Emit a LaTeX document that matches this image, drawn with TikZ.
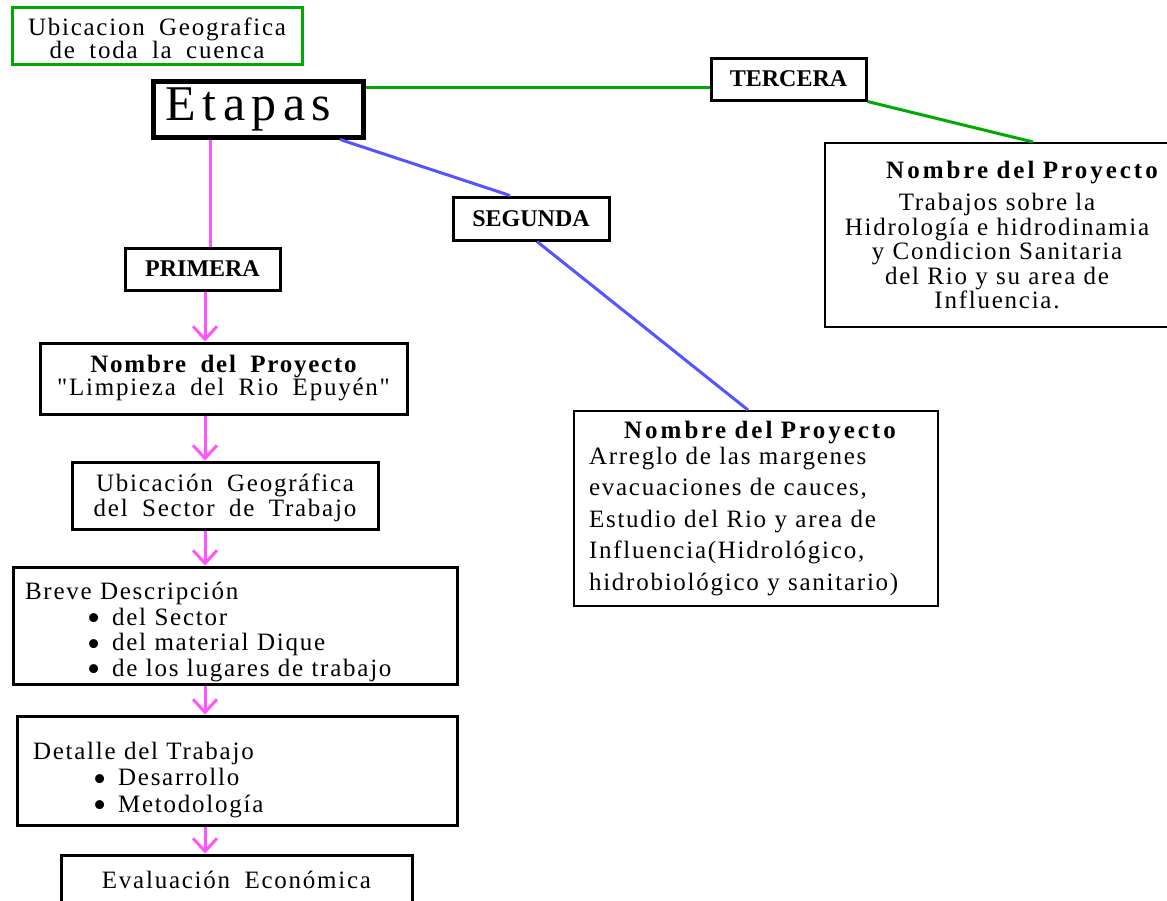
\documentclass[tikz,border=0pt]{standalone}
\usepackage{fontspec}
\usepackage{graphicx}
\setmainfont{Liberation Serif}
\newfontfamily\bodyf[LetterSpace=7,WordSpace=1.8]{Liberation Serif}
\newfontfamily\etapf[LetterSpace=13]{Liberation Serif}
\usetikzlibrary{arrows.meta}
\definecolor{cgreen}{RGB}{0,170,0}
\definecolor{cpink}{RGB}{255,85,255}
\definecolor{cblue}{RGB}{85,85,255}
\newcommand{\bul}{\raisebox{-5.5pt}{\scalebox{1.5}{\textbullet}}}
\begin{document}
\begin{tikzpicture}[x=1pt,y=-1pt,
  box/.style={draw=black, line width=3pt, inner sep=0pt, fill=white, font=\bodyf\fontsize{25}{25}\selectfont},
  thinbox/.style={box, line width=2pt},
  labelbox/.style={box, font=\bfseries\fontsize{24}{26}\selectfont},
  pinkline/.style={cpink, line width=3pt},
  pinkarrow/.style={pinkline, -{Straight Barb[length=13pt,width=24pt]}},
  blueline/.style={cblue, line width=3pt},
  greenline/.style={cgreen, line width=3pt}]
\useasboundingbox (0,0) rectangle (1167,900);
\clip (0,0) rectangle (1167,900);
\fill[white] (0,0) rectangle (1167,900);

\node[box, draw=cgreen, minimum width=290pt, minimum height=57pt, align=center, font=\bodyf\fontsize{25}{23}\selectfont] (cuenca) at (157,35.5) {\rule{0pt}{23pt}Ubicacion Geografica\\ de toda la cuenca};

\node[box, line width=5pt, minimum width=210pt, minimum height=56pt, font=\etapf\fontsize{50}{52}\selectfont] (etapas) at (258,109) {Etapas\hspace*{19pt}};

\node[labelbox, minimum width=155pt, minimum height=42pt] (tercera) at (788.5,79) {TERCERA};
\node[labelbox, minimum width=156pt, minimum height=43pt] (segunda) at (531,218.5) {SEGUNDA};
\node[labelbox, minimum width=155pt, minimum height=42pt] (primera) at (202.5,269) {PRIMERA};

\node[thinbox, minimum width=344pt, minimum height=184pt, text width=340pt, align=center, font=\bodyf\fontsize{25}{24.5}\selectfont] (tercp) at (997,235) {\hspace*{50pt}{\bfseries\addfontfeature{LetterSpace=12} Nombre del Proyecto}\\[8pt] Trabajos sobre la\\ Hidrología e hidrodinamia\\ y Condicion Sanitaria\\ del Rio y su area de\\ Influencia.};

\node[thinbox, minimum width=364pt, minimum height=195pt, text width=334pt, align=left, font=\bodyf\fontsize{25}{31.5}\selectfont] (segp) at (756,508.5) {\makebox[334pt]{\hspace*{8pt}\bfseries\addfontfeature{LetterSpace=12}Nombre del Proyecto}\\[-6pt] Arreglo de las margenes\\ evacuaciones de cauces,\\ Estudio del Rio y area de\\ Influencia(Hidrológico,\\ hidrobiológico y sanitario)};

\node[box, minimum width=367pt, minimum height=71pt, align=center, font=\bodyf\fontsize{25}{23}\selectfont] (n1) at (223.5,378.5) {{\bfseries Nombre del Proyecto}\\ "Limpieza del Rio Epuyén"};

\node[box, minimum width=306pt, minimum height=67pt, align=center] (ubic) at (225,495.5) {\rule{0pt}{22pt}Ubicación Geográfica\\ del Sector de Trabajo};

\node[box, minimum width=444pt, minimum height=117pt, text width=420pt, align=left, font=\bodyf\fontsize{25}{25.5}\selectfont] (breve) at (235,625.5) {\rule{0pt}{30pt}Breve Descripción\\ \hspace*{62pt}\bul\hspace{12pt}del Sector\\ \hspace*{62pt}\bul\hspace{12pt}del material Dique\\ \hspace*{62pt}\bul\hspace{12pt}de los lugares de trabajo};

\node[box, minimum width=440pt, minimum height=109pt, text width=408pt, align=left, font=\bodyf\fontsize{25}{26.5}\selectfont] (detalle) at (237,770.5) {\rule{0pt}{36pt}Detalle del Trabajo\\ \hspace*{60pt}\bul\hspace{12pt}Desarrollo\\ \hspace*{60pt}\bul\hspace{12pt}Metodología};

\node[box, minimum width=351pt, minimum height=50pt] (eval) at (236.5,880) {Evaluación Económica};

% connectors
\coordinate (gy) at (0,87);
\coordinate (gx) at (1033,0);
\draw[greenline] (etapas.east |- gy) -- (tercera.west |- gy);
\draw[greenline] (tercera.south east) -- (tercp.north -| gx);

\coordinate (b1) at (340,0);
\coordinate (b2) at (510,0);
\coordinate (b3) at (537,0);
\coordinate (b4) at (748,0);
\draw[blueline] (etapas.south -| b1) -- (segunda.north -| b2);
\draw[blueline] (segunda.south -| b3) -- (segp.north -| b4);

\coordinate (px) at (210,0);
\coordinate (ax) at (205,0);
\draw[pinkline] (etapas.south -| px) -- (primera.north -| px);
\draw[pinkarrow] (primera.south -| ax) -- (n1.north -| ax);
\draw[pinkarrow] (n1.south -| ax) -- (ubic.north -| ax);
\draw[pinkarrow] (ubic.south -| ax) -- (breve.north -| ax);
\draw[pinkarrow] (breve.south -| ax) -- (detalle.north -| ax);
\draw[pinkarrow] (detalle.south -| ax) -- (eval.north -| ax);
\end{tikzpicture}
\end{document}
